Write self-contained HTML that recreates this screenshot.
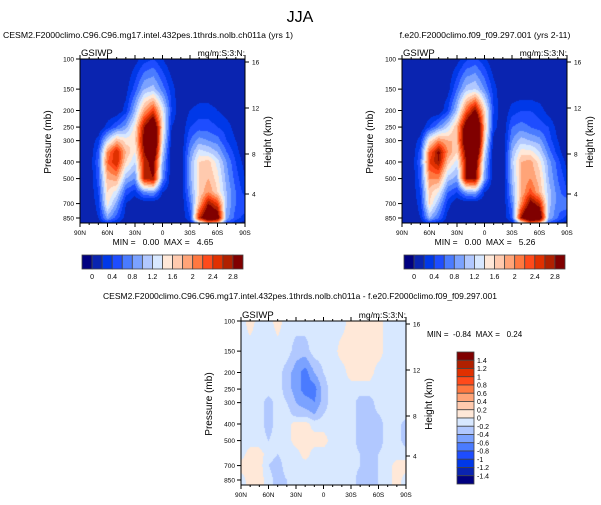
<!DOCTYPE html>
<html><head><meta charset="utf-8">
<style>
html,body{margin:0;padding:0;background:#fff;}
#root{position:relative;width:601px;height:505px;overflow:hidden;font-family:"Liberation Sans",Arial,sans-serif;}
canvas{position:absolute;}
svg{position:absolute;left:0;top:0;}
text{white-space:pre;}
</style></head>
<body>
<div id="root">
<canvas id="c1" width="165" height="164" style="left:80px;top:59px"></canvas>
<canvas id="c2" width="165" height="164" style="left:402px;top:59px"></canvas>
<canvas id="c3" width="165" height="164" style="left:241px;top:321px"></canvas>
<svg id="s" width="601" height="505"></svg>
</div>
<script>
const lats=[90,80,70,60,50,40,30,20,10,0,-10,-20,-30,-40,-50,-60,-70,-80,-90];
const pressures=[100,150,200,250,300,350,400,500,600,700,850,925];
const colors=["#000080","#0a24b0","#0038e8","#1e4dff","#4a7bff","#7ba2ff","#b1c8ff","#d8e8ff","#ffe8d8","#ffcaae","#ffa478","#ff7840","#ff4a1a","#e03000","#b02000","#800000"];
const cbLabels1=["0","0.4","0.8","1.2","1.6","2","2.4","2.8"];
const cbLabels3=["1.4","1.2","1","0.8","0.6","0.4","0.2","0","-0.2","-0.4","-0.6","-0.8","-1","-1.2","-1.4"];
const pTicks=[100,150,200,250,300,400,500,700,850];
const latTickLabels=["90N","60N","30N","0","30S","60S","90S"];
const hTicks=[16,12,8,4];
const field1=[
[0,0,0,0,0,0,0.1,0.3,0.4,0.2,0,0,0,0,0,0,0,0,0],
[0,0,0,0,0,0.1,0.5,1.0,1.1,0.7,0.3,0,0,0,0,0,0,0,0],
[0,0,0,0,0,0.3,1.0,1.9,2.4,1.4,0.4,0,0.2,0.3,0.3,0.2,0.1,0,0],
[0,0,0,0.3,0.6,0.9,1.5,2.8,3.5,1.6,0.2,0,0.4,0.5,0.5,0.4,0.3,0.1,0],
[0,0,0.3,1.2,1.8,1.5,1.6,3.0,3.8,1.4,0.1,0,0.6,0.9,0.8,0.7,0.4,0.2,0],
[0,0,0.5,2.0,2.6,1.8,1.4,2.8,3.5,1.2,0,0,0.8,1.3,1.2,1.0,0.6,0.3,0],
[0,0,0.6,2.2,2.6,1.6,1.2,2.6,3.0,1.0,0,0,0.9,1.6,1.7,1.3,0.8,0.4,0.1],
[0,0,0.5,1.8,1.9,1.0,0.8,2.6,2.8,0.8,0,0,0.9,1.6,1.8,1.5,0.9,0.5,0.2],
[0,0,0.4,1.6,1.3,0.5,0.3,0.8,0.9,0.2,0,0,0.8,1.6,2.0,1.6,1.0,0.6,0.3],
[0,0,0.3,1.5,0.9,0.2,0,0,0,0,0,0,0.6,1.8,2.8,2.4,1.0,0.6,0.6],
[0,0,0.2,0.9,0.5,0.1,0,0,0,0,0,0,0.4,2.6,3.5,3.2,0.9,0.5,0.3],
[0,0,0,0.2,0.1,0,0,0,0,0,0,0,0,0.8,1.5,1.4,0.4,0.2,0]];
const field2=[
[0,0,0,0,0,0,0.1,0.35,0.45,0.25,0,0,0,0,0,0,0,0,0],
[0,0,0,0,0,0.1,0.6,1.1,1.2,0.8,0.3,0,0,0,0,0,0,0,0],
[0,0,0,0,0,0.4,1.1,2.2,2.9,1.6,0.4,0,0.3,0.4,0.4,0.3,0.1,0,0],
[0,0,0,0.4,0.8,1.2,1.8,3.2,4.0,1.8,0.3,0,0.6,0.7,0.6,0.5,0.4,0.1,0],
[0,0,0.3,1.5,2.0,1.8,1.8,3.4,4.2,1.6,0.1,0,0.8,1.1,1.0,0.9,0.5,0.2,0],
[0,0,0.5,2.2,2.9,2.0,1.6,3.0,3.8,1.3,0,0,1.0,1.5,1.5,1.2,0.7,0.3,0],
[0,0,0.6,2.4,2.8,1.7,1.3,2.8,3.2,1.1,0,0,1.1,1.8,1.9,1.5,0.9,0.5,0.1],
[0,0,0.5,2.0,2.0,1.1,0.9,2.8,2.9,0.9,0,0,1.0,1.8,2.0,1.7,1.0,0.6,0.3],
[0,0,0.4,1.7,1.4,0.6,0.4,0.9,1.0,0.2,0,0,0.9,1.8,2.3,1.8,1.1,0.7,0.4],
[0,0,0.3,1.6,1.0,0.3,0,0,0,0,0,0,0.7,2.0,3.0,2.6,1.1,0.7,0.8],
[0,0,0.2,1.0,0.6,0.1,0,0,0,0,0,0,0.5,2.8,3.8,3.4,1.0,0.6,0.3],
[0,0,0,0.2,0.1,0,0,0,0,0,0,0,0,0.9,1.7,1.5,0.4,0.2,0]];
const fieldDiff=[
[-0.1,0.1,-0.1,-0.1,0.1,-0.1,-0.1,-0.1,-0.1,-0.1,-0.1,-0.1,0.1,0.1,0.1,0.1,-0.1,-0.1,-0.1],
[-0.1,-0.1,-0.1,-0.1,-0.1,-0.1,-0.3,-0.3,-0.1,-0.1,-0.1,0.1,0.1,0.1,0.1,0.1,-0.1,-0.1,-0.1],
[-0.1,-0.1,-0.1,-0.1,-0.1,-0.3,-0.5,-0.7,-0.4,-0.2,-0.1,-0.1,0.1,0.1,0.1,-0.1,-0.1,-0.1,-0.1],
[-0.1,-0.1,-0.1,-0.1,-0.1,-0.3,-0.5,-0.7,-0.7,-0.3,-0.1,-0.1,-0.1,-0.1,-0.1,-0.1,-0.1,-0.1,-0.1],
[-0.1,-0.1,-0.1,-0.3,-0.1,-0.2,-0.4,-0.5,-0.6,-0.3,-0.1,-0.1,-0.1,-0.3,-0.3,-0.1,-0.1,-0.1,-0.1],
[-0.1,-0.1,-0.1,-0.3,-0.1,-0.1,-0.3,-0.3,-0.4,-0.2,-0.1,-0.1,-0.1,-0.3,-0.3,-0.2,-0.1,-0.1,-0.1],
[-0.1,-0.1,-0.1,-0.3,-0.1,-0.1,0.1,0.1,-0.1,-0.1,-0.1,-0.1,-0.1,-0.3,-0.3,-0.3,-0.1,-0.1,-0.3],
[-0.1,-0.1,-0.1,-0.2,-0.1,-0.1,0.1,0.1,0.1,0.1,-0.1,-0.1,-0.1,-0.3,-0.4,-0.3,-0.1,-0.1,-0.3],
[-0.1,0.1,0.1,-0.1,-0.2,-0.1,-0.1,0.1,-0.1,-0.1,-0.1,-0.1,-0.1,-0.2,-0.3,-0.2,-0.1,-0.1,-0.1],
[0.1,0.1,0.1,-0.2,-0.3,-0.1,-0.1,-0.1,-0.1,-0.1,-0.1,-0.1,-0.1,-0.2,-0.4,-0.2,-0.1,0.1,0.1],
[-0.1,0.1,0.1,-0.1,-0.3,-0.2,-0.1,-0.1,-0.1,-0.1,-0.1,-0.1,-0.1,-0.3,-0.4,-0.2,-0.1,0.1,-0.1],
[-0.1,0.1,0.1,-0.1,-0.3,-0.2,-0.1,-0.1,-0.1,-0.1,-0.1,-0.1,-0.1,-0.3,-0.4,-0.2,-0.1,0.1,-0.1]];

const W=165,H=164,PXU=74.3;
function yOfP(p){return Math.log(p/100)*PXU;}
function pOfY(y){return 100*Math.exp(y/PXU);}
function xOfLat(l){return (90-l)/180*W;}
function latOfX(x){return 90-x/W*180;}
function sample(f,lat,p){
  let ci=(90-lat)/10; ci=Math.max(0,Math.min(lats.length-1.0001,ci));
  const lp=Math.log(p);
  let ri=0; while(ri<pressures.length-2&&Math.log(pressures[ri+1])<lp) ri++;
  let t=(lp-Math.log(pressures[ri]))/(Math.log(pressures[ri+1])-Math.log(pressures[ri]));
  t=Math.max(0,Math.min(1,t));
  const c0=Math.floor(ci),s=ci-c0,c1=Math.min(c0+1,lats.length-1);
  const a=f[ri][c0]*(1-s)+f[ri][c1]*s, b=f[ri+1][c0]*(1-s)+f[ri+1][c1]*s;
  return a*(1-t)+b*t;
}
function hex(c){return [parseInt(c.slice(1,3),16),parseInt(c.slice(3,5),16),parseInt(c.slice(5,7),16)];}
const rgb=colors.map(hex);
function drawField(id,f,lo){
  const cv=document.getElementById(id),ctx=cv.getContext('2d');
  const img=ctx.createImageData(W,H);
  for(let y=0;y<H;y++)for(let x=0;x<W;x++){
    const v=sample(f,latOfX(x+0.5),pOfY(y+0.5));
    let idx=Math.floor((v-lo)/0.2+1e-9)+1; idx=Math.max(0,Math.min(15,idx));
    const c=rgb[idx],k=(y*W+x)*4;
    img.data[k]=c[0];img.data[k+1]=c[1];img.data[k+2]=c[2];img.data[k+3]=255;
  }
  ctx.putImageData(img,0,0);
}
drawField('c1',field1,0);
drawField('c2',field2,0);
drawField('c3',fieldDiff,-1.4);

const NS="http://www.w3.org/2000/svg",S=document.getElementById('s');
function el(tag,attrs,txt){const e=document.createElementNS(NS,tag);for(const k in attrs)e.setAttribute(k,attrs[k]);if(txt!==undefined)e.textContent=txt;S.appendChild(e);return e;}
function text(x,y,s,size,anchor,name,rot){
  const e=el('text',{x:x,y:y,'font-size':size,'text-anchor':anchor||'start',fill:'#000','font-family':'Liberation Sans, Arial, sans-serif'},s);
  if(rot)e.setAttribute('transform','rotate(-90 '+x+' '+y+')');
  
  
  return e;
}
function line(x1,y1,x2,y2,w){return el('line',{x1:x1,y1:y1,x2:x2,y2:y2,stroke:'#000','stroke-width':w||1});}
const hTickOffsets={16:3,12:49,8:95,4:135};
function axes(X,Y,tag){
  const r=el('rect',{x:X,y:Y,width:W,height:H,fill:'none',stroke:'#000','stroke-width':1});
  
  
  pTicks.forEach(p=>{const y=Y+yOfP(p);line(X-4,y,X,y);
    text(X-6,y+2.5,String(p),6.5,'end',tag+'-y-tick-label');});
  for(let l=90;l>=-90;l-=10){const x=X+xOfLat(l);const major=(l%30===0);
    line(x,Y+H,x,Y+H+(major?4:2));line(x,Y,x,Y-(major?4:2));}
  latTickLabels.forEach((s,i)=>{const x=X+xOfLat(90-30*i);text(x,Y+H+12,s,6.5,'middle',tag+'-x-tick-label');});
  hTicks.forEach(h=>{const y=Y+hTickOffsets[h];line(X+W,y,X+W+4,y);text(X+W+7,y+2.5,String(h),6.5,'start',tag+'-height-tick-label');});
  text(X+1,Y-3,'GSIWP',9.5,'start',tag+'-variable-label');
  text(X+W,Y-3,'mg/m:S:3:N:',8.5,'end',tag+'-units-label');
  text(X-29,Y+H/2+1,'Pressure (mb)',10,'middle',tag+'-y-axis-title',true);
  text(X+W+26,Y+H/2+1,'Height (km)',10,'middle',tag+'-height-axis-title',true);
}
axes(80,59,'left');axes(402,59,'right');axes(241,321,'diff');

text(300,22,'JJA',16,'middle','figure-title');
text(148,38,'CESM2.F2000climo.C96.C96.mg17.intel.432pes.1thrds.nolb.ch011a (yrs 1)',8.7,'middle','left-plot-title');
text(485,38,'f.e20.F2000climo.f09_f09.297.001 (yrs 2-11)',8.7,'middle','right-plot-title');
text(300,299,'CESM2.F2000climo.C96.C96.mg17.intel.432pes.1thrds.nolb.ch011a - f.e20.F2000climo.f09_f09.297.001',8.5,'middle','diff-plot-title');
text(163,245,'MIN =   0.00  MAX =   4.65',8.5,'middle','left-min-max');
text(485,245,'MIN =   0.00  MAX =   5.26',8.5,'middle','right-min-max');
text(427,337,'MIN =  -0.84  MAX =   0.24',8,'start','diff-min-max');

function hbar(X,Y,tag){
  const bw=161/16;
  colors.forEach((c,i)=>{const r=el('rect',{x:X+i*bw,y:Y,width:bw,height:14,fill:c,stroke:'#444','stroke-width':0.8});
    
    });
  cbLabels1.forEach((s,i)=>text(X+(2*i+1)*bw,Y+24,s,7,'middle',tag+'-colorbar-label'));
}
hbar(82,255,'left');hbar(404,255,'right');
(function(){const X=457,Y=352,bh=132/16;
  colors.slice().reverse().forEach((c,i)=>{const r=el('rect',{x:X,y:Y+i*bh,width:17,height:bh,fill:c,stroke:'#444','stroke-width':0.8});
    
    });
  cbLabels3.forEach((s,i)=>text(X+20,Y+(i+1)*bh+2.5,s,7,'start','diff-colorbar-label'));
})();
</script>
</body></html>
